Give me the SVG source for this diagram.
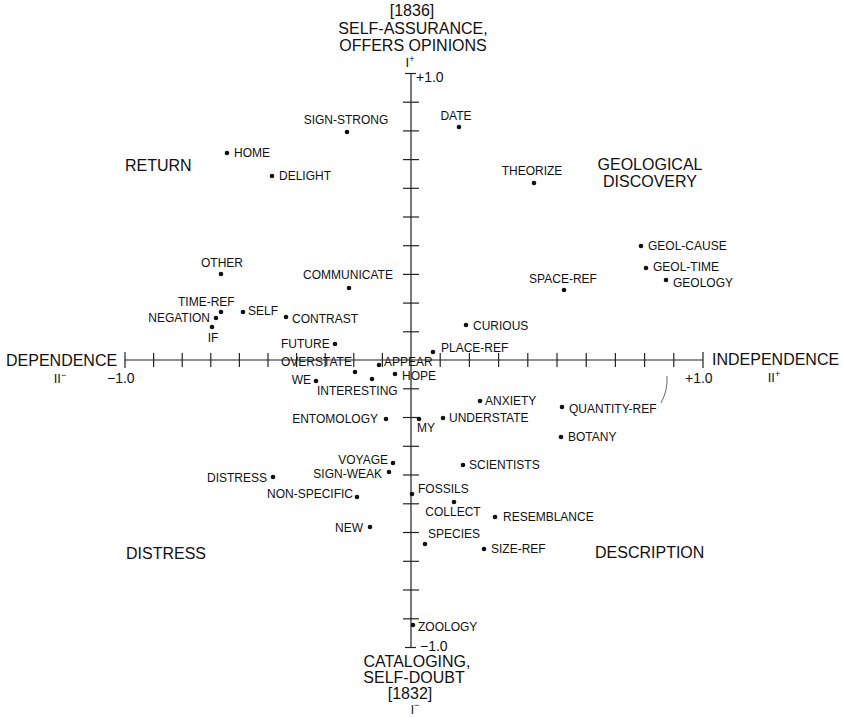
<svg xmlns="http://www.w3.org/2000/svg" width="842" height="717" viewBox="0 0 842 717">
<style>
text{font-family:"Liberation Sans",Arial,sans-serif;fill:#111}
.p{font-size:12px}
.r{font-size:16px}
.a{font-size:16px}
.s{font-size:13px}
.n{font-size:14px}
.dot{fill:#111}
.ax{stroke:#222;stroke-width:1.2;fill:none}
.tk{stroke:#222;stroke-width:1.2}
.ld{stroke:#444;stroke-width:0.8;fill:none}
.m{text-anchor:middle}
.e{text-anchor:end}
</style>
<rect width="842" height="717" fill="#fff"/>
<g id="axes">
<line class="ax" x1="411" y1="73.5" x2="411" y2="647.5"/>
<line class="ax" x1="125" y1="360" x2="703" y2="360" stroke-width="1"/>
<line class="tk" x1="405" y1="73.5" x2="416" y2="73.5"/>
<line class="tk" x1="405" y1="647.5" x2="416" y2="647.5"/>
<line class="tk" x1="125" y1="352" x2="125" y2="368"/>
<line class="tk" x1="703" y1="352" x2="703" y2="368"/>
<g class="tk">
<line x1="403" y1="102.2" x2="419" y2="102.2"/><line x1="403" y1="130.9" x2="419" y2="130.9"/><line x1="403" y1="159.6" x2="419" y2="159.6"/><line x1="403" y1="188.3" x2="419" y2="188.3"/><line x1="403" y1="217" x2="419" y2="217"/><line x1="403" y1="245.7" x2="419" y2="245.7"/><line x1="403" y1="274.4" x2="419" y2="274.4"/><line x1="403" y1="303.1" x2="419" y2="303.1"/><line x1="403" y1="331.8" x2="419" y2="331.8"/>
<line x1="403" y1="388.8" x2="419" y2="388.8"/><line x1="403" y1="417.5" x2="419" y2="417.5"/><line x1="403" y1="446.3" x2="419" y2="446.3"/><line x1="403" y1="475" x2="419" y2="475"/><line x1="403" y1="503.8" x2="419" y2="503.8"/><line x1="403" y1="532.5" x2="419" y2="532.5"/><line x1="403" y1="561.3" x2="419" y2="561.3"/><line x1="403" y1="590" x2="419" y2="590"/><line x1="403" y1="618.8" x2="419" y2="618.8"/>
<line x1="153.6" y1="353" x2="153.6" y2="367"/><line x1="182.2" y1="353" x2="182.2" y2="367"/><line x1="210.8" y1="353" x2="210.8" y2="367"/><line x1="239.4" y1="353" x2="239.4" y2="367"/><line x1="268" y1="353" x2="268" y2="367"/><line x1="296.6" y1="353" x2="296.6" y2="367"/><line x1="325.2" y1="353" x2="325.2" y2="367"/><line x1="353.8" y1="353" x2="353.8" y2="367"/><line x1="382.4" y1="353" x2="382.4" y2="367"/>
<line x1="440.2" y1="353" x2="440.2" y2="367"/><line x1="469.4" y1="353" x2="469.4" y2="367"/><line x1="498.6" y1="353" x2="498.6" y2="367"/><line x1="527.8" y1="353" x2="527.8" y2="367"/><line x1="557" y1="353" x2="557" y2="367"/><line x1="586.2" y1="353" x2="586.2" y2="367"/><line x1="615.4" y1="353" x2="615.4" y2="367"/><line x1="644.6" y1="353" x2="644.6" y2="367"/><line x1="673.8" y1="353" x2="673.8" y2="367"/>
</g>
<text class="n" x="416" y="82">+1.0</text>
<text class="n" x="420" y="651">−1.0</text>
<text class="n" x="107" y="383">−1.0</text>
<text class="n" x="685" y="383">+1.0</text>
</g>
<g id="axis-labels">
<text class="a m" x="412" y="16">[1836]</text>
<text class="a m" x="413" y="34">SELF-ASSURANCE,</text>
<text class="a m" x="413" y="50.5">OFFERS OPINIONS</text>
<text class="s m" x="410" y="67">I<tspan font-size="9" dy="-5">+</tspan></text>
<text class="a m" x="417" y="667">CATALOGING,</text>
<text class="a m" x="414" y="683">SELF-DOUBT</text>
<text class="a m" x="410" y="698.5">[1832]</text>
<text class="p m" x="415" y="714">I<tspan font-size="9" dy="-6">−</tspan></text>
<text class="a" x="6" y="366">DEPENDENCE</text>
<text class="s m" x="60" y="383">II<tspan font-size="9" dy="-5">−</tspan></text>
<text class="a" x="712" y="365">INDEPENDENCE</text>
<text class="s m" x="774" y="382">II<tspan font-size="9" dy="-5">+</tspan></text>
</g>
<g id="regions">
<text class="r" x="125" y="171">RETURN</text>
<text class="r m" x="650" y="170">GEOLOGICAL</text>
<text class="r m" x="650" y="187">DISCOVERY</text>
<text class="r" x="126" y="559">DISTRESS</text>
<text class="r" x="595" y="558">DESCRIPTION</text>
</g>
<g id="connectors">
<path class="ld" d="M661,403 Q668,390 667,376"/>
</g>
<g id="n-sign-strong"><circle class="dot" cx="347" cy="132" r="2.3"/><text class="p m" x="346" y="124">SIGN-STRONG</text></g>
<g id="n-date"><circle class="dot" cx="459" cy="127" r="2.3"/><text class="p m" x="456" y="120">DATE</text></g>
<g id="n-home"><circle class="dot" cx="227" cy="153" r="2.3"/><text class="p" x="234" y="157">HOME</text></g>
<g id="n-delight"><circle class="dot" cx="272" cy="176" r="2.3"/><text class="p" x="279" y="180">DELIGHT</text></g>
<g id="n-theorize"><circle class="dot" cx="534" cy="183" r="2.3"/><text class="p m" x="532" y="175">THEORIZE</text></g>
<g id="n-geol-cause"><circle class="dot" cx="641" cy="246" r="2.3"/><text class="p" x="648" y="250">GEOL-CAUSE</text></g>
<g id="n-geol-time"><circle class="dot" cx="646" cy="268" r="2.3"/><text class="p" x="653" y="271">GEOL-TIME</text></g>
<g id="n-geology"><circle class="dot" cx="666" cy="280" r="2.3"/><text class="p" x="673" y="287">GEOLOGY</text></g>
<g id="n-space-ref"><circle class="dot" cx="564" cy="290" r="2.3"/><text class="p m" x="563" y="283">SPACE-REF</text></g>
<g id="n-other"><circle class="dot" cx="221" cy="274" r="2.3"/><text class="p m" x="222" y="267">OTHER</text></g>
<g id="n-communicate"><circle class="dot" cx="349" cy="288" r="2.3"/><text class="p m" x="348" y="279">COMMUNICATE</text></g>
<g id="n-time-ref"><circle class="dot" cx="221" cy="312" r="2.3"/><text class="p" x="178" y="306">TIME-REF</text></g>
<g id="n-negation"><circle class="dot" cx="216" cy="318" r="2.3"/><text class="p e" x="210" y="322">NEGATION</text></g>
<g id="n-self"><circle class="dot" cx="243" cy="312" r="2.3"/><text class="p" x="248" y="315">SELF</text></g>
<g id="n-contrast"><circle class="dot" cx="286" cy="317" r="2.3"/><text class="p" x="292" y="323">CONTRAST</text></g>
<g id="n-if"><circle class="dot" cx="212" cy="327" r="2.3"/><text class="p m" x="213" y="342">IF</text></g>
<g id="n-curious"><circle class="dot" cx="466" cy="325" r="2.3"/><text class="p" x="473" y="330">CURIOUS</text></g>
<g id="n-future"><circle class="dot" cx="335" cy="344" r="2.3"/><text class="p" x="281" y="348">FUTURE</text></g>
<g id="n-place-ref"><circle class="dot" cx="433" cy="352" r="2.3"/><text class="p" x="441" y="352">PLACE-REF</text></g>
<g id="n-overstate"><circle class="dot" cx="355" cy="372" r="2.3"/><text class="p" x="281" y="366">OVERSTATE</text></g>
<g id="n-appear"><circle class="dot" cx="379" cy="365" r="2.3"/><text class="p" x="384" y="366">APPEAR</text></g>
<g id="n-we"><circle class="dot" cx="316" cy="381" r="2.3"/><text class="p e" x="311" y="384">WE</text></g>
<g id="n-interesting"><circle class="dot" cx="372" cy="379" r="2.3"/><text class="p" x="317" y="395">INTERESTING</text></g>
<g id="n-hope"><circle class="dot" cx="395" cy="374" r="2.3"/><text class="p" x="402" y="380">HOPE</text></g>
<g id="n-anxiety"><circle class="dot" cx="480" cy="401" r="2.3"/><text class="p" x="485" y="405">ANXIETY</text></g>
<g id="n-quantity-ref"><circle class="dot" cx="562" cy="407" r="2.3"/><text class="p" x="569" y="413">QUANTITY-REF</text></g>
<g id="n-entomology"><circle class="dot" cx="386" cy="419" r="2.3"/><text class="p e" x="378" y="423">ENTOMOLOGY</text></g>
<g id="n-my"><circle class="dot" cx="419" cy="419" r="2.3"/><text class="p" x="417" y="432">MY</text></g>
<g id="n-understate"><circle class="dot" cx="443" cy="418" r="2.3"/><text class="p" x="449" y="422">UNDERSTATE</text></g>
<g id="n-botany"><circle class="dot" cx="561" cy="437" r="2.3"/><text class="p" x="568" y="441">BOTANY</text></g>
<g id="n-voyage"><circle class="dot" cx="393" cy="463" r="2.3"/><text class="p e" x="388" y="464">VOYAGE</text></g>
<g id="n-sign-weak"><circle class="dot" cx="389" cy="472" r="2.3"/><text class="p e" x="382" y="478">SIGN-WEAK</text></g>
<g id="n-scientists"><circle class="dot" cx="463" cy="465" r="2.3"/><text class="p" x="469" y="469">SCIENTISTS</text></g>
<g id="n-distress"><circle class="dot" cx="273" cy="477" r="2.3"/><text class="p e" x="267" y="482">DISTRESS</text></g>
<g id="n-non-specific"><circle class="dot" cx="357" cy="497" r="2.3"/><text class="p e" x="353" y="498">NON-SPECIFIC</text></g>
<g id="n-fossils"><circle class="dot" cx="412" cy="494" r="2.3"/><text class="p" x="418" y="493">FOSSILS</text></g>
<g id="n-collect"><circle class="dot" cx="454" cy="502" r="2.3"/><text class="p m" x="453" y="516">COLLECT</text></g>
<g id="n-resemblance"><circle class="dot" cx="495" cy="517" r="2.3"/><text class="p" x="503" y="521">RESEMBLANCE</text></g>
<g id="n-new"><circle class="dot" cx="370" cy="527" r="2.3"/><text class="p e" x="363" y="532">NEW</text></g>
<g id="n-species"><circle class="dot" cx="425" cy="544" r="2.3"/><text class="p" x="428" y="538">SPECIES</text></g>
<g id="n-size-ref"><circle class="dot" cx="484" cy="549" r="2.3"/><text class="p" x="491" y="553">SIZE-REF</text></g>
<g id="n-zoology"><circle class="dot" cx="413" cy="625" r="2.3"/><text class="p" x="418" y="631">ZOOLOGY</text></g>
</svg>
